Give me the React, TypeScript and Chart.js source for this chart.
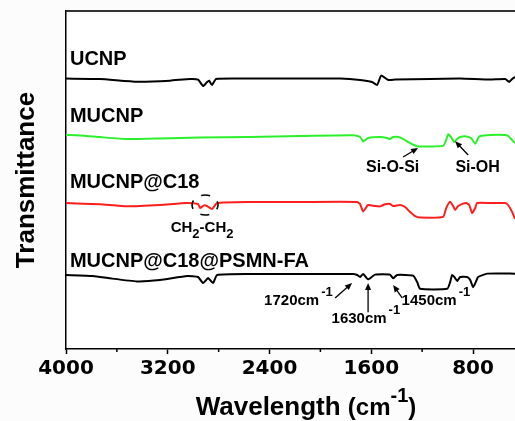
import React, { useEffect, useRef } from "react";
import { Chart, registerables } from "chart.js";

Chart.register(...registerables);

// ---- Data: wavenumber (cm-1) and offset transmittance (a.u.) ----
const ucnpWavenumber = [4000, 3733, 3442, 3182, 3025, 2962, 2922, 2891, 2875, 2852, 2820, 2553, 2160, 1845, 1688, 1593, 1554, 1522, 1467, 1412, 1137, 901, 665, 547, 516, 492, 470];
const ucnpT = [80.0, 79.9, 79.1, 79.4, 79.9, 79.7, 77.8, 79.0, 79.4, 78.1, 79.9, 80.0, 80.0, 80.0, 79.6, 79.0, 78.1, 80.9, 79.6, 79.7, 79.9, 80.0, 79.7, 79.9, 79.0, 79.9, 80.5];

const mucnpWavenumber = [4000, 3890, 3733, 3520, 3261, 2946, 2553, 2160, 1727, 1688, 1664, 1625, 1530, 1475, 1452, 1428, 1373, 1334, 1294, 1255, 1232, 1035, 1011, 996, 972, 948, 925, 901, 854, 815, 783, 760, 744, 665, 547, 524, 492, 470];
const mucnpT = [63.3, 63.2, 62.7, 62.1, 62.3, 62.6, 62.7, 63.0, 63.2, 62.7, 61.4, 62.4, 62.7, 62.4, 62.1, 62.7, 62.6, 61.8, 60.9, 60.2, 59.9, 60.1, 61.8, 63.5, 62.7, 61.2, 62.1, 62.7, 62.9, 62.4, 60.7, 62.4, 63.0, 63.3, 63.3, 63.0, 61.8, 60.9];

const c18Wavenumber = [4000, 3733, 3520, 3261, 3048, 2962, 2946, 2915, 2891, 2852, 2812, 2553, 2160, 1711, 1688, 1664, 1625, 1570, 1530, 1491, 1452, 1428, 1373, 1334, 1294, 1255, 1216, 1035, 1011, 980, 956, 941, 917, 893, 854, 830, 807, 783, 768, 665, 547, 524, 492, 470];
const c18T = [43.2, 42.8, 42.2, 42.6, 43.2, 42.9, 41.7, 42.5, 42.3, 41.4, 43.2, 43.5, 43.5, 43.5, 42.9, 40.7, 42.6, 42.3, 42.2, 42.8, 42.9, 42.3, 42.6, 42.0, 40.5, 39.3, 38.9, 39.1, 41.7, 43.6, 42.3, 41.1, 42.3, 42.8, 43.2, 42.6, 40.2, 41.7, 43.2, 43.2, 43.2, 42.6, 40.5, 38.5];

const psmnWavenumber = [4000, 3788, 3654, 3442, 3261, 3048, 2962, 2922, 2883, 2844, 2812, 2553, 2160, 1743, 1711, 1688, 1664, 1625, 1570, 1452, 1428, 1397, 1271, 1239, 1216, 1003, 980, 964, 941, 925, 901, 846, 822, 799, 775, 760, 689, 470];
const psmnT = [21.9, 21.6, 20.9, 20.0, 20.4, 21.6, 21.3, 19.5, 21.0, 19.5, 21.9, 22.2, 22.2, 22.2, 21.9, 21.3, 22.2, 20.6, 22.0, 22.0, 20.9, 21.9, 21.7, 19.8, 17.8, 17.8, 19.8, 21.9, 21.0, 20.1, 21.3, 21.3, 20.4, 18.3, 20.1, 21.3, 22.3, 22.3];

const seriesNames = ["UCNP", "MUCNP", "MUCNP@C18", "MUCNP@C18@PSMN-FA"];
const seriesColors = ["#000000", "#2cf02c", "#ff1e1e", "#000000"];
const labelWavenumber = 3969;
const labelT = [84.0, 67.2, 47.6, 24.3];

const xMin = 470;
const xMax = 4000;
const majorTicks = [4000, 3200, 2400, 1600, 800];
const allTicks = [4000, 3600, 3200, 2800, 2400, 2000, 1600, 1200, 800];

// annotation anchors (wavenumber, T)
const peakLabels = [
  { text: "1720cm", sup: "-1", wn: 2226, t: 14.3, from: [1884, 15.1], to: [1751, 19.5] },
  { text: "1630cm", sup: "-1", wn: 1696, t: 9.0, from: [1625, 10.9], to: [1625, 19.5] },
  { text: "1450cm", sup: "-1", wn: 1145, t: 14.3, from: [1357, 15.1], to: [1428, 18.9] },
];
const bondLabels = [
  { text: "Si-O-Si", wn: 1432, t: 53.7, from: [1350, 56.8], to: [1232, 59.5] },
  { text: "Si-OH", wn: 764, t: 53.7, from: [838, 57.4], to: [941, 61.5] },
];
const ch2Label = { wn: 2930, t: 34.6 };
const ch2Circle = { wn: 2907, t: 42.6 };

const ARIAL = '"Liberation Sans", Arial, sans-serif';

function drawArrow(ctx: CanvasRenderingContext2D, x1: number, y1: number, x2: number, y2: number) {
  const ang = Math.atan2(y2 - y1, x2 - x1);
  const hl = 7;
  const hw = 3;
  ctx.beginPath();
  ctx.moveTo(x1, y1);
  ctx.lineTo(x2 - hl * 0.7 * Math.cos(ang), y2 - hl * 0.7 * Math.sin(ang));
  ctx.stroke();
  ctx.beginPath();
  ctx.moveTo(x2, y2);
  ctx.lineTo(x2 - hl * Math.cos(ang) + hw * Math.sin(ang), y2 - hl * Math.sin(ang) - hw * Math.cos(ang));
  ctx.lineTo(x2 - hl * Math.cos(ang) - hw * Math.sin(ang), y2 - hl * Math.sin(ang) + hw * Math.cos(ang));
  ctx.closePath();
  ctx.fill();
}

const decorPlugin = {
  id: "decor",
  beforeDraw(chart: any) {
    const { ctx, chartArea } = chart;
    ctx.save();
    ctx.fillStyle = "#fcfcfc";
    ctx.fillRect(0, 0, chart.width, chart.height);
    ctx.fillStyle = "#ffffff";
    ctx.fillRect(chartArea.left, chartArea.top, chartArea.right - chartArea.left, chartArea.bottom - chartArea.top);
    ctx.restore();
  },
  afterDraw(chart: any) {
    const { ctx, chartArea } = chart;
    const xs = chart.scales.x;
    const ys = chart.scales.y;
    const px = (v: number) => xs.getPixelForValue(v);
    const py = (v: number) => ys.getPixelForValue(v);
    ctx.save();

    // top frame
    ctx.strokeStyle = "#333";
    ctx.lineWidth = 2;
    ctx.beginPath();
    ctx.moveTo(chartArea.left, chartArea.top);
    ctx.lineTo(chartArea.right, chartArea.top);
    ctx.stroke();

    // minor ticks (shorter)
    ctx.strokeStyle = "#000";
    ctx.lineWidth = 1.5;
    xs.ticks.forEach((tk: any) => {
      if (!majorTicks.includes(tk.value)) {
        const x = px(tk.value);
        ctx.beginPath();
        ctx.moveTo(x, chartArea.bottom);
        ctx.lineTo(x, chartArea.bottom + 3);
        ctx.stroke();
      }
    });

    // series labels
    ctx.fillStyle = "#000";
    ctx.font = `bold 20px ${ARIAL}`;
    ctx.textAlign = "left";
    ctx.textBaseline = "alphabetic";
    seriesNames.forEach((n, i) => ctx.fillText(n, px(labelWavenumber), py(labelT[i])));

    // bond labels with arrows
    ctx.font = `bold 16px ${ARIAL}`;
    ctx.textAlign = "center";
    ctx.textBaseline = "middle";
    ctx.lineWidth = 1.3;
    ctx.strokeStyle = "#000";
    bondLabels.forEach((b) => {
      ctx.fillText(b.text, px(b.wn), py(b.t));
      drawArrow(ctx, px(b.from[0]), py(b.from[1]), px(b.to[0]), py(b.to[1]));
    });

    // peak labels with superscript
    peakLabels.forEach((p) => {
      ctx.font = `bold 15px ${ARIAL}`;
      ctx.textAlign = "center";
      ctx.textBaseline = "middle";
      const cx = px(p.wn);
      const cy = py(p.t);
      const w = ctx.measureText(p.text).width;
      ctx.fillText(p.text, cx, cy);
      ctx.font = `bold 13px ${ARIAL}`;
      ctx.textAlign = "left";
      ctx.fillText(p.sup, cx + w / 2 + 2, cy - 8);
      drawArrow(ctx, px(p.from[0]), py(p.from[1]), px(p.to[0]), py(p.to[1]));
    });

    // CH2-CH2
    {
      const parts: [string, boolean][] = [["CH", false], ["2", true], ["-CH", false], ["2", true]];
      const mainF = `bold 15px ${ARIAL}`;
      const subF = `bold 13px ${ARIAL}`;
      let total = 0;
      parts.forEach(([s, sub]) => {
        ctx.font = sub ? subF : mainF;
        total += ctx.measureText(s).width;
      });
      let x = px(ch2Label.wn) - total / 2;
      const base = py(ch2Label.t);
      ctx.textAlign = "left";
      ctx.textBaseline = "alphabetic";
      parts.forEach(([s, sub]) => {
        ctx.font = sub ? subF : mainF;
        ctx.fillText(s, x, sub ? base + 6 : base);
        x += ctx.measureText(s).width;
      });
    }

    // dashed ellipse
    {
      const cx = px(ch2Circle.wn);
      const cy = py(ch2Circle.t);
      const rx = 13;
      const ry = 10;
      const per = 2 * Math.PI * Math.sqrt((rx * rx + ry * ry) / 2);
      const dash = 9;
      ctx.setLineDash([dash, per / 4 - dash]);
      ctx.lineDashOffset = dash / 2;
      ctx.lineWidth = 1.6;
      ctx.beginPath();
      ctx.ellipse(cx, cy, rx, ry, 0, 0, Math.PI * 2);
      ctx.stroke();
      ctx.setLineDash([]);
    }

    // x-axis title with superscript
    {
      const segs: [string, string, number][] = [
        ["Wavelength ", `bold 26px ${ARIAL}`, 0],
        ["(cm", `bold 24px ${ARIAL}`, 0],
        ["-1", `bold 20px ${ARIAL}`, -13],
        [")", `bold 24px ${ARIAL}`, 0],
      ];
      let total = 0;
      segs.forEach(([s, f]) => {
        ctx.font = f;
        total += ctx.measureText(s).width;
      });
      let x = 306 - total / 2;
      const base = 415;
      ctx.textAlign = "left";
      ctx.textBaseline = "alphabetic";
      segs.forEach(([s, f, dy]) => {
        ctx.font = f;
        ctx.fillText(s, x, base + dy);
        x += ctx.measureText(s).width;
      });
    }
    ctx.restore();
  },
};

export default function App() {
  const ref = useRef<HTMLCanvasElement>(null);
  useEffect(() => {
    const canvas = ref.current!;
    const mk = (wn: number[], t: number[]) => wn.map((w, i) => ({ x: w, y: t[i] }));
    const chart = new Chart(canvas, {
      type: "line",
      data: {
        datasets: [
          { label: seriesNames[0], data: mk(ucnpWavenumber, ucnpT), borderColor: seriesColors[0], borderWidth: 2 },
          { label: seriesNames[1], data: mk(mucnpWavenumber, mucnpT), borderColor: seriesColors[1], borderWidth: 2 },
          { label: seriesNames[2], data: mk(c18Wavenumber, c18T), borderColor: seriesColors[2], borderWidth: 2 },
          { label: seriesNames[3], data: mk(psmnWavenumber, psmnT), borderColor: seriesColors[3], borderWidth: 2 },
        ],
      },
      options: {
        responsive: false,
        animation: false,
        devicePixelRatio: 1,
        layout: { padding: { top: 11, right: 0, left: 0, bottom: 0 } },
        elements: { point: { radius: 0 }, line: { tension: 0.15 } },
        plugins: { legend: { display: false }, tooltip: { enabled: false } },
        scales: {
          x: {
            type: "linear",
            reverse: true,
            min: xMin,
            max: xMax,
            afterBuildTicks: (s: any) => {
              s.ticks = allTicks.map((v) => ({ value: v }));
            },
            afterFit: (s: any) => {
              s.height = 72;
            },
            ticks: {
              autoSkip: false,
              maxRotation: 0,
              minRotation: 0,
              padding: 3,
              color: "#000",
              font: { family: '"DejaVu Sans", sans-serif', size: 20, weight: "bold" },
              callback: (v: any) => (majorTicks.includes(Number(v)) ? String(v) : ""),
            },
            grid: {
              drawOnChartArea: false,
              drawTicks: true,
              tickLength: 5,
              tickWidth: 1.5,
              tickColor: (c: any) => (c.tick && majorTicks.includes(c.tick.value) ? "#000" : "rgba(0,0,0,0)"),
            },
            border: { display: true, color: "#000", width: 1.5 },
          },
          y: {
            min: 0,
            max: 100,
            afterFit: (s: any) => {
              s.width = 66;
            },
            ticks: { display: false },
            grid: { drawOnChartArea: false, drawTicks: false },
            border: { display: true, color: "#000", width: 1.5 },
            title: {
              display: true,
              text: "Transmittance",
              color: "#000",
              font: { family: '"Liberation Sans", Arial, sans-serif', size: 26, weight: "bold" },
              padding: { top: 11, bottom: 0 },
            },
          },
        },
      },
      plugins: [decorPlugin],
    });
    return () => chart.destroy();
  }, []);
  return (
    <canvas
      ref={ref}
      width={515}
      height={421}
      style={{ position: "absolute", left: 0, top: 0, width: "515px", height: "421px" }}
    />
  );
}
